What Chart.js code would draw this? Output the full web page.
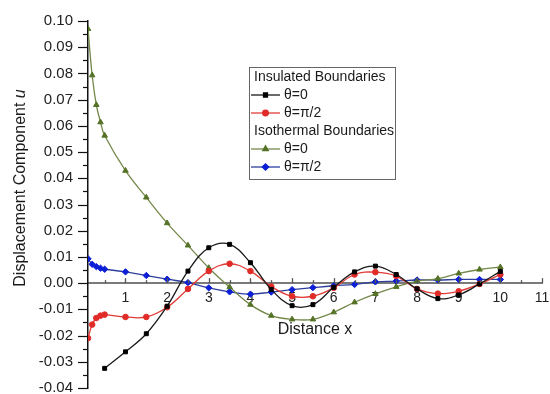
<!DOCTYPE html>
<html>
<head>
<meta charset="utf-8">
<script src="https://cdn.jsdelivr.net/npm/chart.js@4.4.1/dist/chart.umd.min.js"></script>
<style>
html,body{margin:0;padding:0;background:#fff;}
#wrap{width:550px;height:394px;}
</style>
</head>
<body>
<div id="wrap"><canvas id="c" width="550" height="394"></canvas></div>
<script>
// ---- data ----
const xDense = [0.1,0.2,0.3,0.4,0.5,1,1.5,2,2.5,3,3.5,4,4.5,5,5.5,6,6.5,7,7.5,8,8.5,9,9.5,10];
const xBlack = [0.5,1,1.5,2,2.5,3,3.5,4,4.5,5,5.5,6,6.5,7,7.5,8,8.5,9,9.5,10];
const insulatedTheta0 = [-0.0325,-0.0262,-0.0193,-0.0088,0.0046,0.0135,0.0148,0.0078,-0.0024,-0.0086,-0.0082,-0.0016,0.0043,0.0065,0.0033,-0.0022,-0.0059,-0.0045,-0.0003,0.0045];
const insulatedThetaHalfPi = [-0.021,-0.0158,-0.0133,-0.0124,-0.012,-0.0129,-0.0129,-0.0092,-0.0022,0.0046,0.0074,0.0046,-0.0013,-0.005,-0.005,-0.0018,0.0033,0.0042,0.0027,-0.0022,-0.004,-0.0031,-0.0003,0.0033];
const isothermalTheta0 = [0.097,0.0793,0.068,0.0614,0.0563,0.0429,0.0327,0.0229,0.0144,0.0058,-0.0015,-0.0082,-0.0124,-0.0138,-0.0138,-0.0111,-0.0073,-0.0041,-0.0014,0.0008,0.0017,0.0037,0.0052,0.0061];
const isothermalThetaHalfPi = [0.0093,0.0072,0.0063,0.0057,0.0053,0.0043,0.0029,0.0015,0.0002,-0.0018,-0.0033,-0.0042,-0.0034,-0.0025,-0.0017,-0.001,-0.0005,0.0005,0.0008,0.0012,0.0012,0.0014,0.0014,0.0014];
const xTickValues = [1,2,3,4,5,6,7,8,9,10,11];
const seriesLabels = ['θ=0','θ=π/2','θ=0','θ=π/2'];
const groupLabels = ['Insulated Boundaries','Isothermal Boundaries'];

const FONT = "'Liberation Sans', Arial, sans-serif";
const pts = (xs, ys) => xs.map((x, i) => ({x: x, y: ys[i]}));

function ds(label, xs, ys, line, fill, style, r) {
  return {
    label: label, data: pts(xs, ys),
    borderColor: line, backgroundColor: fill,
    pointBackgroundColor: fill, pointBorderColor: fill,
    borderWidth: 1.3, pointStyle: style, pointRadius: r, pointBorderWidth: 1,
    tension: 0.4, fill: false
  };
}

const datasets = [
  ds(seriesLabels[0], xBlack, insulatedTheta0, '#1a1a1a', '#000000', 'rect', 2.8),
  ds(seriesLabels[1], xDense, insulatedThetaHalfPi, '#e23b36', '#e02b28', 'circle', 2.8),
  ds(seriesLabels[2], xDense, isothermalTheta0, '#74884a', '#557326', 'triangle', 3.2),
  ds(seriesLabels[3], xDense, isothermalThetaHalfPi, '#2e3f9e', '#0c1fd6', 'rectRot', 3.2)
];

const decor = {
  id: 'decor',
  afterDraw(chart) {
    const ctx = chart.ctx;
    const xs = chart.scales.x, ys = chart.scales.y;
    const axX = ys.right;
    ctx.save();
    // y ticks (major + minor) outward
    ctx.strokeStyle = '#111'; ctx.lineWidth = 1.2;
    for (let i = 0; i <= 28; i++) {
      const v = -0.04 + i * 0.005;
      const py = Math.round(ys.getPixelForValue(v)) + 0.5;
      const len = (i % 2 === 0) ? 10 : 5;
      ctx.beginPath(); ctx.moveTo(axX, py); ctx.lineTo(axX - len, py); ctx.stroke();
    }
    // x ticks upward from the zero line
    const y0 = ys.getPixelForValue(0);
    ctx.strokeStyle = '#555'; ctx.lineWidth = 1.3;
    for (let i = 1; i <= 22; i++) {
      const v = i * 0.5;
      const px = Math.round(xs.getPixelForValue(v)) + 0.5;
      const len = (i % 2 === 0) ? 5 : 3;
      ctx.beginPath(); ctx.moveTo(px, y0); ctx.lineTo(px, y0 - len); ctx.stroke();
    }
    // y title with italic u
    ctx.fillStyle = '#1a1a1a';
    ctx.textBaseline = 'middle';
    const main = 'Displacement Component ';
    ctx.font = '16px ' + FONT;
    const w1 = ctx.measureText(main).width;
    ctx.font = 'italic 16px ' + FONT;
    const w2 = ctx.measureText('u').width;
    ctx.translate(21, 188);
    ctx.rotate(-Math.PI / 2);
    const start = -(w1 + w2) / 2;
    ctx.textAlign = 'left';
    ctx.font = '16px ' + FONT;
    ctx.fillText(main, start, 0);
    ctx.font = 'italic 16px ' + FONT;
    ctx.fillText('u', start + w1, 0);
    ctx.restore();

    // legend
    ctx.save();
    const L = 249, T = 67, R = 395, B = 179;
    ctx.fillStyle = '#fff';
    ctx.fillRect(L, T, R - L, B - T);
    ctx.strokeStyle = '#666'; ctx.lineWidth = 1;
    ctx.strokeRect(L + 0.5, T + 0.5, R - L, B - T);
    ctx.font = '14px ' + FONT;
    ctx.fillStyle = '#1a1a1a';
    ctx.textBaseline = 'middle'; ctx.textAlign = 'left';
    const rows = [
      {t: 'h', text: groupLabels[0], y: 77},
      {t: 's', d: 0, y: 95},
      {t: 's', d: 1, y: 113},
      {t: 'h', text: groupLabels[1], y: 131},
      {t: 's', d: 2, y: 149},
      {t: 's', d: 3, y: 167}
    ];
    rows.forEach(r => {
      if (r.t === 'h') {
        ctx.fillText(r.text, 254, r.y);
      } else {
        const d = chart.data.datasets[r.d];
        ctx.strokeStyle = d.borderColor; ctx.lineWidth = 1.3;
        ctx.beginPath(); ctx.moveTo(251, r.y); ctx.lineTo(280, r.y); ctx.stroke();
        ctx.fillStyle = d.pointBackgroundColor; ctx.strokeStyle = d.pointBorderColor;
        Chart.helpers.drawPoint(ctx, {pointStyle: d.pointStyle, radius: d.pointRadius, rotation: 0, borderWidth: 1}, 265.5, r.y);
        ctx.fillStyle = '#1a1a1a';
        ctx.fillText(d.label, 284, r.y);
      }
    });
    ctx.restore();
  }
};

new Chart(document.getElementById('c'), {
  type: 'line',
  data: {datasets: datasets},
  options: {
    responsive: false,
    animation: false,
    devicePixelRatio: 1,
    layout: {padding: {left: 0, top: 21, right: 8, bottom: 6}},
    plugins: {legend: {display: false}, tooltip: {enabled: false}},
    scales: {
      x: {
        type: 'linear', min: 0.1, max: 11,
        position: {y: 0},
        afterBuildTicks: s => { s.ticks = xTickValues.map(v => ({value: v})); },
        afterFit: s => { s.paddingLeft = 0; s.paddingRight = 0; s.paddingTop = 0; s.paddingBottom = 0; },
        grid: {display: false, drawTicks: false},
        border: {display: true, color: '#7a7a7a', width: 2},
        ticks: {font: {family: FONT, size: 14}, color: '#222', padding: 7, autoSkip: false, maxRotation: 0,
                callback: v => String(v)},
        title: {display: true, text: 'Distance x', font: {family: FONT, size: 16}, color: '#1a1a1a',
                padding: {top: 6, bottom: 0}}
      },
      y: {
        type: 'linear', min: -0.04, max: 0.10,
        afterFit: s => { s.width = 88; s.paddingTop = 0; s.paddingBottom = 0; },
        afterBuildTicks: s => {
          const t = [];
          for (let i = 0; i <= 14; i++) t.push({value: Math.round((-0.04 + i * 0.01) * 100) / 100});
          s.ticks = t;
        },
        grid: {display: false, drawTicks: false},
        border: {display: true, color: '#111', width: 1.5},
        ticks: {font: {family: FONT, size: 15}, color: '#222', padding: 15, autoSkip: false,
                callback: v => (Math.abs(v) < 1e-9 ? 0 : v).toFixed(2)}
      }
    }
  },
  plugins: [decor]
});
</script>
</body>
</html>
